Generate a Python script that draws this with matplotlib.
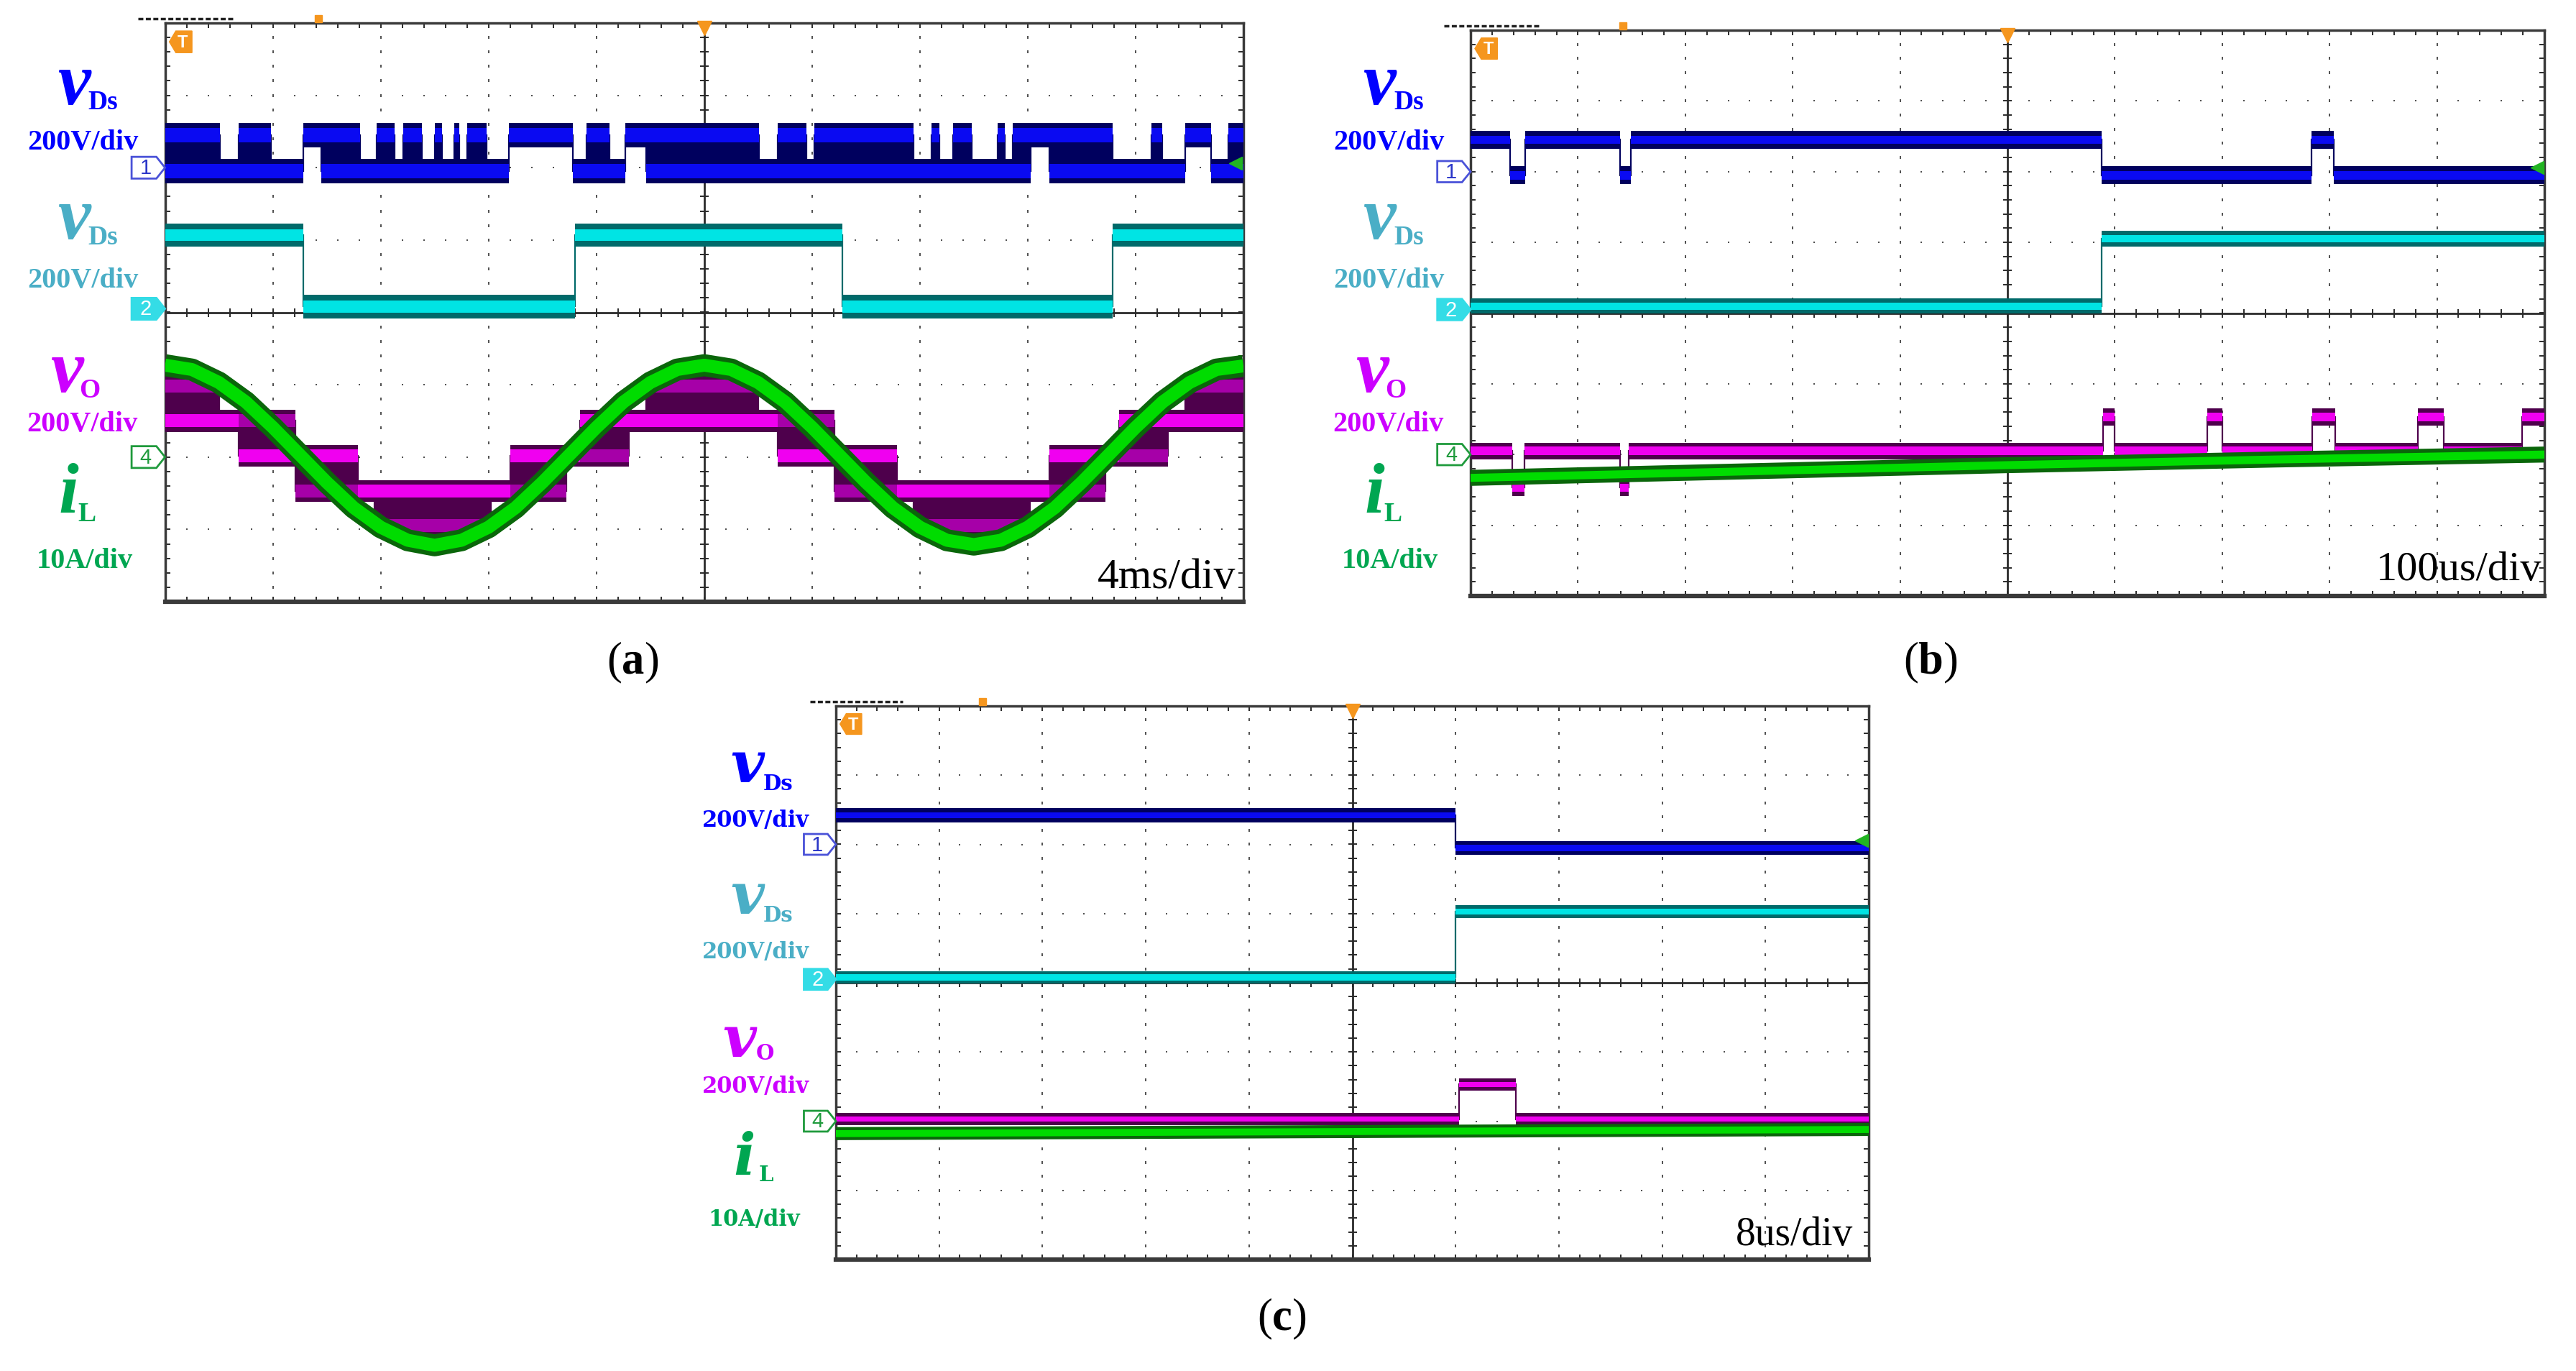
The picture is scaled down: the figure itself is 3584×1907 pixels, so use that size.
import numpy as np
import matplotlib
matplotlib.use("Agg")
import matplotlib.pyplot as plt
from matplotlib.patches import Polygon

plt.rcParams['font.family'] = ['Liberation Serif', 'DejaVu Serif']
plt.rcParams['mathtext.fontset'] = 'custom'
plt.rcParams['mathtext.rm'] = 'Liberation Serif'
plt.rcParams['mathtext.bf'] = 'Liberation Serif:bold'

W, H = 3584, 1908

# ---------------- data, in scope divisions (x 0..10, y -4..4) ----------------
# (a) 4ms/div
a_ch1_edges = [0.00, 0.51, 0.68, 0.98, 1.28, 1.45, 1.81, 1.96, 2.13, 2.21, 2.38, 2.50, 2.57,
               2.68, 2.73, 2.80, 2.98, 3.19, 3.78, 3.91, 4.12, 4.27, 4.46, 5.51, 5.68, 5.95,
               6.02, 6.28, 6.94, 7.11, 7.18, 7.31, 7.48, 7.72, 7.79, 7.86, 8.03, 8.20, 8.79,
               9.15, 9.25, 9.46, 9.70, 9.86, 10.0]
a_ch1_state = ['M', 'L', 'M', 'L', 'H', 'M', 'L', 'M', 'L', 'M', 'L', 'M', 'L',
               'M', 'L', 'M', 'L', 'H', 'L', 'M', 'L', 'H', 'M', 'L', 'M', 'L',
               'M', 'M', 'L', 'M', 'L', 'M', 'L', 'M', 'L', 'M', 'H', 'M', 'L',
               'M', 'L', 'H', 'L', 'M']
a_ch1_lo, a_ch1_hi = 1.95, 2.45

a_ch2_edges = [0.0, 1.28, 3.80, 6.28, 8.79, 10.0]
a_ch2_state = ['H', 'L', 'H', 'L', 'H']
a_ch2_lo, a_ch2_hi = 0.08, 1.07

a_vo_edges = [0.00, 0.50, 0.68, 1.21, 1.79, 1.94, 3.02, 3.20, 3.72, 3.85, 4.30, 4.46,
              5.50, 5.68, 6.21, 6.79, 6.94, 8.02, 8.20, 8.72, 8.85, 9.30, 9.46, 10.0]
a_vo_lo = [-1.50, -1.50, -1.98, -2.47, -2.47, -2.95, -2.47, -2.47, -1.98, -1.98, -1.50,
           -1.50, -1.50, -1.98, -2.47, -2.47, -2.95, -2.47, -2.47, -1.98, -1.98, -1.50, -1.50]
a_vo_hi = [-1.02, -1.50, -1.50, -1.98, -2.47, -2.47, -2.47, -1.98, -1.98, -1.50, -1.50,
           -1.02, -1.50, -1.50, -1.98, -2.47, -2.47, -2.47, -1.98, -1.98, -1.50, -1.50, -1.02]
a_vo_main = [-1.50, -1.50, -1.98, -1.98, -2.47, -2.47, -2.47, -1.98, -1.98, -1.50, -1.50,
             -1.50, -1.50, -1.98, -1.98, -2.47, -2.47, -2.47, -1.98, -1.98, -1.50, -1.50, -1.50]

a_il_x = [0.0, 0.25, 0.5, 0.75, 1.0, 1.25, 1.5, 1.75, 2.0, 2.25, 2.5, 2.75, 3.0, 3.25,
          3.5, 3.75, 4.0, 4.25, 4.5, 4.75, 5.0, 5.25, 5.5, 5.75, 6.0, 6.25, 6.5, 6.75,
          7.0, 7.25, 7.5, 7.75, 8.0, 8.25, 8.5, 8.75, 9.0, 9.25, 9.5, 9.75, 10.0]
a_il_y = [-0.73, -0.79, -0.97, -1.24, -1.59, -1.97, -2.35, -2.70, -2.97, -3.15, -3.22,
          -3.15, -2.97, -2.70, -2.35, -1.97, -1.59, -1.24, -0.97, -0.79, -0.73, -0.79,
          -0.97, -1.24, -1.59, -1.97, -2.35, -2.70, -2.97, -3.15, -3.21, -3.15, -2.97,
          -2.70, -2.35, -1.97, -1.59, -1.24, -0.97, -0.79, -0.74]

# (b) 100us/div
b_ch1_edges = [0.0, 0.37, 0.51, 1.39, 1.49, 5.88, 7.83, 8.04, 10.0]
b_ch1_state = ['H', 'L', 'H', 'L', 'H', 'L', 'H', 'L']
b_ch1_lo, b_ch1_hi = 1.95, 2.45
b_ch2_edges = [0.0, 5.88, 10.0]
b_ch2_state = ['L', 'H']
b_ch2_lo, b_ch2_hi = 0.10, 1.05
b_vo_edges = [0.0, 0.39, 0.50, 1.39, 1.47, 5.89, 6.00, 6.86, 7.00, 7.84, 8.05, 8.82, 9.06, 9.79, 10.0]
b_vo_level = [-1.95, -2.47, -1.95, -2.47, -1.95, -1.47, -1.95, -1.47, -1.95, -1.47,
              -1.95, -1.47, -1.95, -1.47]
b_il_x = [0.0, 2.5, 5.0, 7.5, 10.0]
b_il_y = [-2.33, -2.24, -2.15, -2.07, -2.00]

# (c) 8us/div
c_ch1_edges = [0.0, 6.0, 10.0]
c_ch1_state = ['H', 'L']
c_ch1_lo, c_ch1_hi = 1.95, 2.42
c_ch2_edges = [0.0, 6.0, 10.0]
c_ch2_state = ['L', 'H']
c_ch2_lo, c_ch2_hi = 0.08, 1.03
c_vo_edges = [0.0, 6.03, 6.58, 10.0]
c_vo_level = [-1.97, -1.47, -1.97]
c_il_x = [0.0, 5.0, 10.0]
c_il_y = [-2.18, -2.15, -2.12]

# ---------------- colours ----------------
BLUE_D, BLUE_C = '#00005e', '#0a0af2'
CYAN_D, CYAN_C = '#006a6a', '#00e4e4'
MAG_D, MAG_C, MAG_M = '#4e004c', '#f000f0', '#a600a8'
GRN_D, GRN_C = '#0a660a', '#00dc00'
LBL_BLUE, LBL_CYAN, LBL_MAG, LBL_GRN = '#0000ff', '#4aaec6', '#cc00ff', '#00a651'
GRID = '#505050'


def px(x, y):
    return x / W, 1 - y / H


def trace(ax, edges, lows, highs, mains, dark, core, mid, wd, wc, z=3):
    for i in range(len(lows)):
        x0, x1 = edges[i], edges[i + 1]
        lo, hi, m = lows[i], highs[i], mains[i]
        ax.fill_between([x0, x1], lo - wd, hi + wd, color=dark, lw=0, zorder=z)
        for lev in (lo, hi):
            if lev != m:
                ax.fill_between([x0, x1], lev - wc, lev + wc, color=mid, lw=0, zorder=z + 0.1)
        ax.fill_between([x0, x1], m - wc, m + wc, color=core, lw=0, zorder=z + 0.2)
    for i in range(1, len(lows)):
        v = [lows[i - 1], highs[i - 1], lows[i], highs[i]]
        ax.plot([edges[i], edges[i]], [min(v), max(v)], color=dark, lw=1.6, zorder=z)


def two_level(ax, edges, state, lo, hi, dark, core, wd, wc, z=3):
    lows = [lo if s in 'LM' else hi for s in state]
    highs = [hi if s in 'HM' else lo for s in state]
    mains = [lo if s == 'L' else hi for s in state]
    trace(ax, edges, lows, highs, mains, dark, core, core, wd, wc, z)


def pent(ax, y, face, edge, txt, tcol):
    p = Polygon([(-0.31, y - 0.15), (-0.08, y - 0.15), (0.0, y), (-0.08, y + 0.15), (-0.31, y + 0.15)],
                closed=True, fc=face, ec=edge, lw=2, clip_on=False, zorder=6)
    ax.add_patch(p)
    ax.text(-0.18, y, txt, color=tcol, fontsize=21, ha='center', va='center',
            family='Liberation Sans', clip_on=False, zorder=7)


def scope(rect):
    ax = fig.add_axes(rect)
    ax.set_xlim(0, 10)
    ax.set_ylim(-4, 4)
    ax.set_xticks([])
    ax.set_yticks([])
    for s in ax.spines.values():
        s.set_color('#3a3a3a')
        s.set_linewidth(2.5)
    ax.spines['bottom'].set_linewidth(4.5)
    yy = np.arange(-4, 4.01, 0.2)
    xx = np.arange(0, 10.01, 0.2)
    for gx in [1, 2, 3, 4, 6, 7, 8, 9]:
        ax.plot(np.full(yy.size, gx), yy, ls='none', marker='|', ms=3, mew=1.4, color=GRID, zorder=1)
    for gy in [-3, -2, -1, 1, 2, 3]:
        ax.plot(xx, np.full(xx.size, gy), ls='none', marker='s', ms=1.8, mew=0, color=GRID, zorder=1)
    ax.axhline(0, color='#2a2a2a', lw=2, zorder=1.5)
    ax.axvline(5, color='#2a2a2a', lw=2, zorder=1.5)
    ax.plot(xx, np.zeros(xx.size), ls='none', marker='|', ms=8, mew=1.4, color='#2a2a2a', zorder=1.5)
    ax.plot(np.full(yy.size, 5), yy, ls='none', marker='_', ms=8, mew=1.4, color='#2a2a2a', zorder=1.5)
    ax.plot(xx, np.full(xx.size, 4), ls='none', marker='|', ms=10, mew=1.4, color='#2a2a2a', zorder=1.5)
    ax.plot(xx, np.full(xx.size, -4), ls='none', marker='|', ms=10, mew=1.4, color='#2a2a2a', zorder=1.5)
    ax.plot(np.zeros(yy.size), yy, ls='none', marker='_', ms=10, mew=1.4, color='#2a2a2a', zorder=1.5)
    ax.plot(np.full(yy.size, 10), yy, ls='none', marker='_', ms=10, mew=1.4, color='#2a2a2a', zorder=1.5)
    # trigger marks
    ax.add_patch(Polygon([(0.04, 3.74), (0.10, 3.89), (0.25, 3.89), (0.25, 3.59), (0.10, 3.59)],
                         closed=True, fc='#f5961e', ec='#f5961e', zorder=6))
    ax.text(0.165, 3.74, 'T', color='white', fontsize=17, fontweight='bold', ha='center', va='center',
            family='Liberation Sans', zorder=7)
    ax.plot([5], [3.93], marker='v', ms=15, color='#f5961e', clip_on=False, zorder=6)
    ax.plot([1.42], [4.06], marker='s', ms=7, color='#f5961e', clip_on=False, zorder=6)
    ax.plot([-0.25, 0.65], [4.06, 4.06], color='#222222', lw=2.5, ls=(0, (2, 1)), clip_on=False)
    ax.plot([9.93], [2.06], marker='<', ms=13, color='#22b422', zorder=8)
    pent(ax, 2.0, 'white', '#4a52d8', '1', '#2a36c8')
    pent(ax, 0.05, '#34dce6', '#34dce6', '2', 'white')
    pent(ax, -2.0, 'white', '#1f9a3c', '4', '#1f9a3c')
    return ax


fig = plt.figure(figsize=(W / 100, H / 100), dpi=100)
fig.patch.set_facecolor('white')

# ---------------- panel (a) ----------------
axa = scope([229.6 / W, 1 - 838 / H, (1730 - 229.6) / W, (838 - 33) / H])
two_level(axa, a_ch1_edges, a_ch1_state, a_ch1_lo, a_ch1_hi, BLUE_D, BLUE_C, 0.17, 0.10)
two_level(axa, a_ch2_edges, a_ch2_state, a_ch2_lo, a_ch2_hi, CYAN_D, CYAN_C, 0.16, 0.08)
trace(axa, a_vo_edges, a_vo_lo, a_vo_hi, a_vo_main, MAG_D, MAG_C, MAG_M, 0.15, 0.09, z=4)
axa.plot(a_il_x, a_il_y, color=GRN_D, lw=22, solid_joinstyle='round', solid_capstyle='butt', zorder=5)
axa.plot(a_il_x, a_il_y, color=GRN_C, lw=13, solid_joinstyle='round', solid_capstyle='butt', zorder=5.1)

# ---------------- panel (b) ----------------
axb = scope([2046 / W, 1 - 830 / H, (3540 - 2046) / W, (830 - 43) / H])
two_level(axb, b_ch1_edges, b_ch1_state, b_ch1_lo, b_ch1_hi, BLUE_D, BLUE_C, 0.13, 0.06)
two_level(axb, b_ch2_edges, b_ch2_state, b_ch2_lo, b_ch2_hi, CYAN_D, CYAN_C, 0.11, 0.05)
trace(axb, b_vo_edges, b_vo_level, b_vo_level, b_vo_level, MAG_D, MAG_C, MAG_M, 0.12, 0.06, z=4)
axb.plot(b_il_x, b_il_y, color=GRN_D, lw=16, solid_capstyle='butt', zorder=5)
axb.plot(b_il_x, b_il_y, color=GRN_C, lw=8, solid_capstyle='butt', zorder=5.1)

# ---------------- panel (c) ----------------
axc = scope([1163 / W, 1 - 1753 / H, (2600 - 1163) / W, (1753 - 983) / H])
two_level(axc, c_ch1_edges, c_ch1_state, c_ch1_lo, c_ch1_hi, BLUE_D, BLUE_C, 0.10, 0.045)
two_level(axc, c_ch2_edges, c_ch2_state, c_ch2_lo, c_ch2_hi, CYAN_D, CYAN_C, 0.09, 0.045)
trace(axc, c_vo_edges, c_vo_level, c_vo_level, c_vo_level, MAG_D, MAG_C, MAG_M, 0.085, 0.04, z=4)
axc.plot(c_il_x, c_il_y, color=GRN_D, lw=13, solid_capstyle='butt', zorder=5)
axc.plot(c_il_x, c_il_y, color=GRN_C, lw=7, solid_capstyle='butt', zorder=5.1)


# ---------------- channel labels ----------------
def labels_ab(left, dy):
    def t(x, y, s, col, size, style='normal'):
        fig.text(*px(left + x, y + dy), s, color=col, fontsize=size, fontweight='bold',
                 fontstyle=style, ha='left', va='baseline', family='Liberation Serif')

    def c(x, y, s, col):
        fig.text(*px(left + x, y + dy), s, color=col, fontsize=29, fontweight='bold',
                 ha='center', va='baseline', family='Liberation Serif')
    t(-150, 145, 'v', LBL_BLUE, 74, 'italic')
    t(-107, 152, 'Ds', LBL_BLUE, 27)
    c(-114, 208, '200V/div', LBL_BLUE)
    t(-150, 332, 'v', LBL_CYAN, 74, 'italic')
    t(-107, 340, 'Ds', LBL_CYAN, 27)
    c(-114, 400, '200V/div', LBL_CYAN)
    t(-160, 545, 'v', LBL_MAG, 74, 'italic')
    t(-119, 553, 'O', LBL_MAG, 27)
    c(-115, 600, '200V/div', LBL_MAG)
    t(-148, 713, 'i', LBL_GRN, 72, 'italic')
    t(-121, 725, 'L', LBL_GRN, 27)
    c(-112, 790, '10A/div', LBL_GRN)


labels_ab(229.6, 0)
labels_ab(2046, 0)


def tc(x, y, s, col, size, style='normal', ha='left'):
    fig.text(*px(x, y), s, color=col, fontsize=size, fontweight='bold', fontstyle=style,
             ha=ha, va='baseline', family='DejaVu Serif')


tc(1016, 1088, 'v', LBL_BLUE, 58, 'italic')
tc(1062, 1099, 'Ds', LBL_BLUE, 21)
tc(1051, 1150, '200V/div', LBL_BLUE, 22, ha='center')
tc(1016, 1271, 'v', LBL_CYAN, 58, 'italic')
tc(1062, 1282, 'Ds', LBL_CYAN, 21)
tc(1051, 1333, '200V/div', LBL_CYAN, 22, ha='center')
tc(1005, 1470, 'v', LBL_MAG, 58, 'italic')
tc(1052, 1474, 'O', LBL_MAG, 21)
tc(1051, 1520, '200V/div', LBL_MAG, 22, ha='center')
tc(1020, 1634, 'i', LBL_GRN, 58, 'italic')
tc(1056, 1643, 'L', LBL_GRN, 21)
tc(1049, 1705, '10A/div', LBL_GRN, 22, ha='center')

# ---------------- time base and captions ----------------
fig.text(*px(1719, 818), '4ms/div', fontsize=43, ha='right', va='baseline', color='black')
fig.text(*px(3536, 807), '100us/div', fontsize=42, ha='right', va='baseline', color='black')
fig.text(*px(2578, 1732), '8us/div', fontsize=40, ha='right', va='baseline', color='black')

fig.text(*px(880, 937), r'($\mathbf{a}$)', fontsize=45, ha='center', va='baseline')
fig.text(*px(2686, 937), r'($\mathbf{b}$)', fontsize=45, ha='center', va='baseline')
fig.text(*px(1783, 1850), r'($\mathbf{c}$)', fontsize=45, ha='center', va='baseline')

fig.savefig('out.png', dpi=100)
